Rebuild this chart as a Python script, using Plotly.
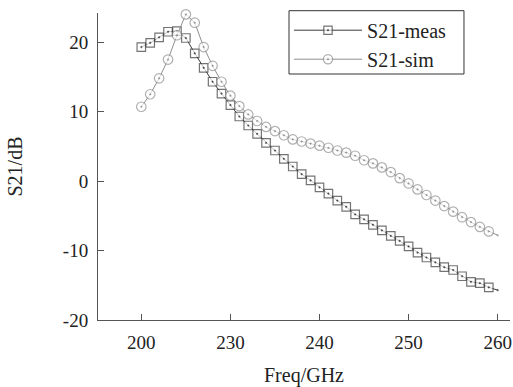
import plotly.graph_objects as go

freq = list(range(220, 261))
meas = [19.3, 19.9, 20.7, 21.5, 21.6, 20.6, 18.4, 16.3, 14.3, 12.6,
        10.95, 9.3, 8.0, 6.8, 5.5, 4.4, 3.2, 2.1, 1.0, 0.1,
        -0.9, -1.8, -2.8, -3.7, -4.8, -5.5, -6.3, -7.1, -7.9, -8.6,
        -9.4, -10.3, -11.0, -11.7, -12.4, -12.8, -13.7, -14.5, -14.7, -15.3,
        -15.7]
sim = [10.7, 12.5, 14.8, 17.5, 21.0, 24.0, 22.8, 19.3, 16.6, 14.3,
       12.3, 10.8, 9.6, 8.65, 7.8, 7.2, 6.6, 6.0, 5.7, 5.4,
       5.1, 4.8, 4.4, 4.1, 3.65, 3.0, 2.55, 1.97, 1.3, 0.43,
       -0.34, -1.2, -2.0, -2.8, -3.6, -4.4, -5.2, -5.9, -6.6, -7.25,
       -7.8]
x_tickvals = [220, 230, 240, 250, 260]
x_ticktext = ["200", "230", "240", "250", "260"]
y_tickvals = [-20, -10, 0, 10, 20]
y_ticktext = ["-20", "-10", "0", "10", "20"]

meas_color = "#3a3a3a"
sim_color = "#8f8f8f"
FONT = "Liberation Serif, Times New Roman, serif"

# marker shown on every sample except the final line end point
meas_sizes = [8.5] * (len(freq) - 1) + [0]
sim_sizes = [9.5] * (len(freq) - 1) + [0]

fig = go.Figure()
fig.add_trace(go.Scatter(
    x=freq, y=meas, name="S21-meas", mode="lines+markers",
    cliponaxis=False,
    line=dict(color=meas_color, width=1),
    marker=dict(symbol="square-dot", size=meas_sizes, color="white",
                line=dict(color=meas_color, width=1.2)),
))
fig.add_trace(go.Scatter(
    x=freq, y=sim, name="S21-sim", mode="lines+markers",
    cliponaxis=False,
    line=dict(color=sim_color, width=1),
    marker=dict(symbol="circle-dot", size=sim_sizes, color="white",
                line=dict(color=sim_color, width=1.2)),
))

# legend frame (wider than the legend's own box, as in the reference)
fig.add_shape(type="rect", xref="paper", yref="paper",
              x0=0.4636, x1=0.8883, y0=0.8013, y1=1.0075,
              line=dict(color="#333", width=1), fillcolor="rgba(0,0,0,0)",
              layer="above")

fig.update_layout(
    width=513, height=387,
    margin=dict(l=98, r=3, t=13, b=67, autoexpand=False),
    paper_bgcolor="white", plot_bgcolor="white",
    font=dict(family=FONT, size=19, color="#222"),
    showlegend=True,
    legend=dict(
        x=0.4636, y=1.0075, xanchor="left", yanchor="top",
        bgcolor="rgba(0,0,0,0)", borderwidth=0,
        font=dict(family=FONT, size=20, color="#222"),
        itemwidth=68, tracegroupgap=0,
    ),
    xaxis=dict(
        range=[215.14, 261.38], tickmode="array",
        tickvals=x_tickvals, ticktext=x_ticktext,
        showgrid=False, zeroline=False, showline=True,
        linecolor="#555", linewidth=1,
        ticks="inside", ticklen=6, tickcolor="#555",
        ticklabelstandoff=5, automargin=False,
        title=dict(text="Freq/GHz", font=dict(family=FONT, size=20), standoff=22),
    ),
    yaxis=dict(
        range=[-20, 24.2], tickmode="array", tickvals=y_tickvals,
        ticktext=y_ticktext,
        showgrid=False, zeroline=False, showline=True,
        linecolor="#555", linewidth=1,
        ticks="inside", ticklen=6, tickcolor="#555",
        ticklabelstandoff=5, automargin=False,
        title=dict(text="S21/dB", font=dict(family=FONT, size=20), standoff=34),
    ),
)

fig.write_html("out.html")
